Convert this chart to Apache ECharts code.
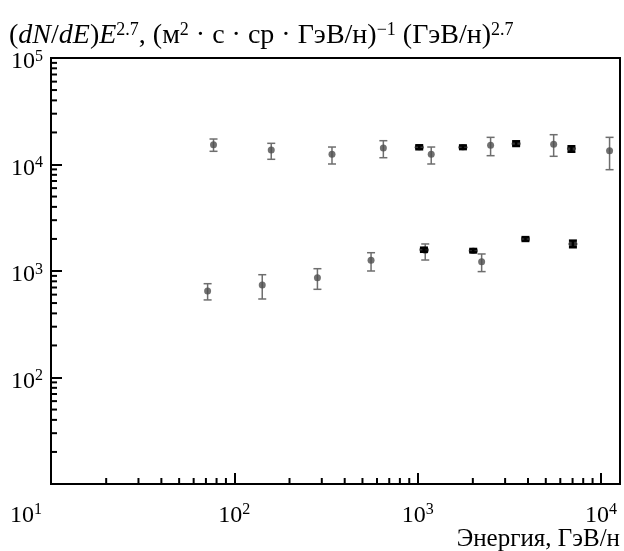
<!DOCTYPE html>
<html><head><meta charset="utf-8">
<script src="https://cdn.jsdelivr.net/npm/echarts@6/dist/echarts.min.js"></script>
<style>html,body{margin:0;padding:0;background:#fff}#c{width:624px;height:551px}</style>
</head><body><div id="c"></div>
<script>
// Gray points (circles with error bars), upper group
const grayUpE  = [77, 159, 341, 650, 1186, 2500, 5520, 11140];
const grayUpV  = [15350, 13690, 12470, 14290, 12470, 15140, 15480, 13480];
const grayUpHi = [17350, 15810, 14590, 16730, 14590, 17990, 19050, 17990];
const grayUpLo = [13300, 11190, 10110, 11580, 10110, 12100, 11940, 8940];
// Gray points, lower group
const grayLoE  = [71.5, 142, 284, 557, 1100, 2234];
const grayLoV  = [649, 739, 865, 1259, 1564, 1222];
const grayLoHi = [760, 923, 1051, 1485, 1794, 1445];
const grayLoLo = [535, 546, 673, 1000, 1268, 987];
// Black points, upper group
const blkUpE  = [1020, 1766, 3445, 6900];
const blkUpV  = [14510, 14510, 15670, 14070];
const blkUpHi = [15150, 15100, 16520, 14830];
const blkUpLo = [13900, 13950, 14920, 13180];
// Black points, lower group
const blkLoE  = [1082, 2010, 3873, 7030];
const blkLoV  = [1585, 1552, 1996, 1795];
const blkLoHi = [1655, 1610, 2080, 1928];
const blkLoLo = [1515, 1495, 1915, 1671];
// Axis ranges and minor tick values
const xMin = 10, xMax = 12700, yMin = 10, yMax = 100000;
const xMinorTicks = [20,30,40,50,60,70,80,90,200,300,400,500,600,700,800,900,2000,3000,4000,5000,6000,7000,8000,9000];
const yMinorTicks = [20,30,40,50,60,70,80,90,200,300,400,500,600,700,800,900,2000,3000,4000,5000,6000,7000,8000,9000,20000,30000,40000,50000,60000,70000,80000,90000];

const FONT = '"Liberation Serif", "DejaVu Serif", serif';
const chart = echarts.init(document.getElementById('c'), null, {renderer: 'canvas'});

function pts(E, V) { return E.map((e, i) => [e, V[i]]); }
function errs(E, Lo, Hi) { return E.map((e, i) => [e, Lo[i], Hi[i]]); }

function errRender(color, capHalf, lw) {
  return function (params, api) {
    const x = api.value(0), lo = api.value(1), hi = api.value(2);
    const a = api.coord([x, lo]), b = api.coord([x, hi]);
    const st = {stroke: color, lineWidth: lw};
    return {type: 'group', children: [
      {type: 'line', shape: {x1: a[0], y1: a[1], x2: b[0], y2: b[1]}, style: st},
      {type: 'line', shape: {x1: a[0] - capHalf, y1: a[1], x2: a[0] + capHalf, y2: a[1]}, style: st},
      {type: 'line', shape: {x1: b[0] - capHalf, y1: b[1], x2: b[0] + capHalf, y2: b[1]}, style: st}
    ]};
  };
}

const sup = (e) => '{b|10}{s|' + e + '}';
const labRich = {
  b: {fontFamily: FONT, fontSize: 24, color: '#000'},
  s: {fontFamily: FONT, fontSize: 16, color: '#000', padding: [0, 0, 11, 0]},
  bm: {fontFamily: FONT, fontSize: 24, color: '#000'},
  sm: {fontFamily: FONT, fontSize: 16, color: '#000', padding: [0, 50, 11, 0]}
};

const option = {
  animation: false,
  backgroundColor: '#fff',
  title: {
    left: 4, top: 16,
    text: '({i|dN}/{i|dE}){i|E}{t|2.7}, (м{t|2} · с · ср · ГэВ/н){t|−1} (ГэВ/н){t|2.7}',
    textStyle: {
      fontFamily: FONT, fontSize: 28, fontWeight: 'normal', color: '#000',
      rich: {
        i: {fontFamily: FONT, fontSize: 28, fontStyle: 'italic', color: '#000'},
        t: {fontFamily: FONT, fontSize: 18, color: '#000', padding: [0, 0, 12, 0]}
      }
    }
  },
  graphic: [{
    type: 'text', right: 4, top: 527,
    style: {text: 'Энергия, ГэВ/н', font: '25px ' + FONT, fill: '#000'}
  }],
  grid: {left: 51, right: 4, top: 58, bottom: 67, show: true, borderColor: '#000', borderWidth: 2, backgroundColor: 'transparent'},
  xAxis: {
    type: 'log', logBase: 10, min: xMin, max: xMax, splitNumber: 3,
    axisLine: {lineStyle: {color: '#000', width: 2}},
    axisTick: {inside: true, length: 11, lineStyle: {color: '#000', width: 2}},
    splitLine: {show: false},
    axisLabel: {
      margin: 18, showMinLabel: true, showMaxLabel: false,
      formatter: function (v) {
        const e = Math.round(Math.log10(v));
        if (Math.abs(Math.log10(v) - e) > 1e-6) return '';
        if (e === 1) return '{bm|10}{sm|1}';
        return sup(e);
      },
      rich: labRich
    }
  },
  yAxis: {
    type: 'log', logBase: 10, min: yMin, max: yMax, splitNumber: 4,
    axisLine: {lineStyle: {color: '#000', width: 2}},
    axisTick: {inside: true, length: 11, lineStyle: {color: '#000', width: 2}},
    splitLine: {show: false},
    axisLabel: {
      margin: 8, padding: [8, 0, 0, 0],
      formatter: function (v) {
        const e = Math.round(Math.log10(v));
        if (e === 1) return '';
        return sup(e);
      },
      rich: labRich
    }
  },
  series: [
    {type: 'custom', name: 'xminor', data: xMinorTicks.map(v => [v]), silent: true, z: 3,
      encode: {x: 0},
      renderItem: function (params, api) {
        const p = api.coord([api.value(0), yMin]);
        return {type: 'line', shape: {x1: p[0], y1: p[1], x2: p[0], y2: p[1] - 6}, style: {stroke: '#000', lineWidth: 2}};
      }},
    {type: 'custom', name: 'yminor', data: yMinorTicks.map(v => [xMin, v]), silent: true, z: 3,
      encode: {x: 0, y: 1},
      renderItem: function (params, api) {
        const p = api.coord([xMin, api.value(1)]);
        return {type: 'line', shape: {x1: p[0], y1: p[1], x2: p[0] + 6, y2: p[1]}, style: {stroke: '#000', lineWidth: 2}};
      }},
    {type: 'custom', name: 'grayUpErr', data: errs(grayUpE, grayUpLo, grayUpHi), encode: {x: 0, y: [1, 2]}, renderItem: errRender('#6e6e6e', 4, 1.5), z: 4},
    {type: 'custom', name: 'grayLoErr', data: errs(grayLoE, grayLoLo, grayLoHi), encode: {x: 0, y: [1, 2]}, renderItem: errRender('#6e6e6e', 4, 1.5), z: 4},
    {type: 'scatter', name: 'grayUp', data: pts(grayUpE, grayUpV), symbol: 'circle', symbolSize: 7, itemStyle: {color: '#4d4d4d'}, z: 5},
    {type: 'scatter', name: 'grayLo', data: pts(grayLoE, grayLoV), symbol: 'circle', symbolSize: 7, itemStyle: {color: '#4d4d4d'}, z: 5},
    {type: 'custom', name: 'blkUpErr', data: errs(blkUpE, blkUpLo, blkUpHi), encode: {x: 0, y: [1, 2]}, renderItem: errRender('#000', 4, 2.5), z: 6},
    {type: 'custom', name: 'blkLoErr', data: errs(blkLoE, blkLoLo, blkLoHi), encode: {x: 0, y: [1, 2]}, renderItem: errRender('#000', 4, 2.5), z: 6},
    {type: 'scatter', name: 'blkUp', data: pts(blkUpE, blkUpV), symbol: 'circle', symbolSize: [9, 6], itemStyle: {color: '#000'}, z: 7},
    {type: 'scatter', name: 'blkLo', data: pts(blkLoE, blkLoV), symbol: 'circle', symbolSize: [9, 6], itemStyle: {color: '#000'}, z: 7}
  ]
};
chart.setOption(option);
</script>
</body></html>
